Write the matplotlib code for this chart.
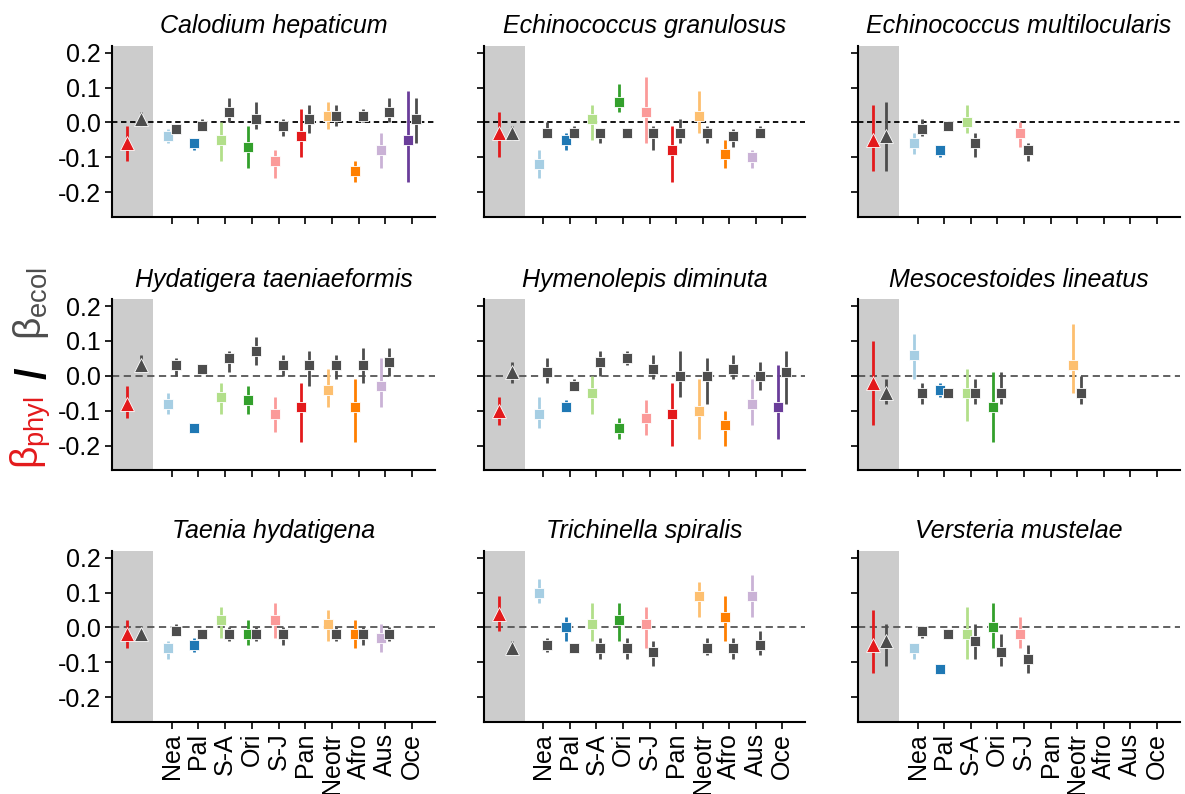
import matplotlib
matplotlib.use("Agg")
import numpy as np
import matplotlib.pyplot as plt

plt.rcParams['font.family'] = ['Liberation Sans', 'DejaVu Sans']
plt.rcParams['axes.unicode_minus'] = False

# regions (x categories) and their colours
regions = ["Nea", "Pal", "S-A", "Ori", "S-J", "Pan", "Neotr", "Afro", "Aus", "Oce"]
region_colors = ['#a6cee3', '#1f78b4', '#b2df8a', '#33a02c', '#fb9a99',
                 '#e31a1c', '#fdbf6f', '#ff7f00', '#cab2d6', '#6a3d9a']
species = ["Calodium hepaticum", "Echinococcus granulosus", "Echinococcus multilocularis",
           "Hydatigera taeniaeformis", "Hymenolepis diminuta", "Mesocestoides lineatus",
           "Taenia hydatigena", "Trichinella spiralis", "Versteria mustelae"]

N = None
# (estimate, lower, upper) per region
calodium_phyl = [(-0.04, -0.06, -0.02), (-0.06, -0.08, -0.05), (-0.05, -0.11, 0.0), (-0.07, -0.13, -0.01),
                 (-0.11, -0.16, -0.08), (-0.04, -0.10, 0.04), (0.02, -0.02, 0.06), (-0.14, -0.17, -0.11),
                 (-0.08, -0.13, -0.03), (-0.05, -0.17, 0.09)]
calodium_ecol = [(-0.02, -0.03, -0.01), (-0.01, -0.02, 0.01), (0.03, 0.0, 0.07), (0.01, -0.02, 0.06),
                 (-0.01, -0.04, 0.01), (0.01, -0.03, 0.05), (0.02, -0.01, 0.05), (0.02, 0.0, 0.04),
                 (0.03, 0.0, 0.07), (0.01, -0.06, 0.07)]

granulosus_phyl = [(-0.12, -0.16, -0.08), (-0.05, -0.08, -0.03), (0.01, -0.05, 0.05), (0.06, 0.03, 0.11),
                   (0.03, -0.06, 0.13), (-0.08, -0.17, -0.01), (0.02, -0.03, 0.09), (-0.09, -0.13, -0.05),
                   (-0.10, -0.13, -0.08), N]
granulosus_ecol = [(-0.03, -0.04, 0.0), (-0.03, -0.04, -0.01), (-0.03, -0.06, -0.02), (-0.03, -0.04, -0.02),
                   (-0.03, -0.08, -0.01), (-0.03, -0.06, 0.01), (-0.03, -0.06, -0.01), (-0.04, -0.07, -0.02),
                   (-0.03, -0.04, -0.01), N]

multilocularis_phyl = [(-0.06, -0.09, -0.03), (-0.08, -0.10, -0.07), (0.0, -0.03, 0.05), N,
                       (-0.03, -0.07, 0.0), N, N, N, N, N]
multilocularis_ecol = [(-0.02, -0.04, 0.01), (-0.01, -0.015, -0.005), (-0.06, -0.10, -0.03), N,
                       (-0.08, -0.11, -0.06), N, N, N, N, N]

hydatigera_phyl = [(-0.08, -0.11, -0.05), (-0.15, -0.155, -0.145), (-0.06, -0.11, -0.02), (-0.07, -0.11, -0.03),
                   (-0.11, -0.16, -0.06), (-0.09, -0.19, -0.02), (-0.04, -0.09, 0.02), (-0.09, -0.19, -0.01),
                   (-0.03, -0.09, 0.05), N]
hydatigera_ecol = [(0.03, 0.0, 0.05), (0.02, 0.015, 0.025), (0.05, 0.01, 0.07), (0.07, 0.03, 0.11),
                   (0.03, 0.0, 0.06), (0.03, -0.03, 0.07), (0.03, -0.01, 0.06), (0.03, -0.02, 0.08),
                   (0.04, 0.0, 0.08), N]

hymenolepis_phyl = [(-0.11, -0.15, -0.06), (-0.09, -0.10, -0.07), (-0.05, -0.11, 0.0), (-0.15, -0.18, -0.12),
                    (-0.12, -0.17, -0.07), (-0.11, -0.20, -0.02), (-0.10, -0.18, -0.01), (-0.14, -0.20, -0.10),
                    (-0.08, -0.14, -0.01), (-0.09, -0.18, 0.03)]
hymenolepis_ecol = [(0.01, -0.02, 0.05), (-0.03, -0.04, -0.01), (0.04, 0.0, 0.07), (0.05, 0.03, 0.07),
                    (0.02, -0.01, 0.06), (0.0, -0.06, 0.07), (0.0, -0.08, 0.05), (0.02, -0.01, 0.06),
                    (0.0, -0.04, 0.04), (0.01, -0.08, 0.07)]

mesocestoides_phyl = [(0.06, -0.01, 0.12), (-0.04, -0.06, -0.02), (-0.05, -0.13, 0.02), (-0.09, -0.19, 0.01),
                      N, N, (0.03, -0.05, 0.15), N, N, N]
mesocestoides_ecol = [(-0.05, -0.08, -0.02), (-0.05, -0.06, -0.04), (-0.05, -0.08, -0.01), (-0.05, -0.08, 0.01),
                      N, N, (-0.05, -0.08, 0.0), N, N, N]

taenia_phyl = [(-0.06, -0.09, -0.04), (-0.05, -0.07, -0.03), (0.02, -0.03, 0.06), (-0.02, -0.05, 0.02),
               (0.02, -0.03, 0.07), N, (0.01, -0.04, 0.05), (-0.02, -0.06, 0.02), (-0.03, -0.07, 0.01), N]
taenia_ecol = [(-0.01, -0.02, 0.01), (-0.02, -0.025, -0.015), (-0.02, -0.04, 0.0), (-0.02, -0.04, 0.0),
               (-0.02, -0.05, 0.0), N, (-0.02, -0.04, 0.0), (-0.02, -0.05, 0.0), (-0.02, -0.04, 0.0), N]

trichinella_phyl = [(0.10, 0.07, 0.14), (0.0, -0.04, 0.03), (0.01, -0.04, 0.07), (0.02, -0.04, 0.07),
                    (0.01, -0.06, 0.06), N, (0.09, 0.03, 0.13), (0.03, -0.04, 0.09), (0.09, 0.03, 0.15), N]
trichinella_ecol = [(-0.05, -0.07, -0.03), (-0.06, -0.07, -0.05), (-0.06, -0.09, -0.03), (-0.06, -0.09, -0.03),
                    (-0.07, -0.11, -0.04), N, (-0.06, -0.08, -0.03), (-0.06, -0.09, -0.03), (-0.05, -0.08, -0.01), N]

versteria_phyl = [(-0.06, -0.09, -0.05), (-0.12, -0.125, -0.115), (-0.02, -0.09, 0.06), (0.0, -0.06, 0.07),
                  (-0.02, -0.06, 0.03), N, N, N, N, N]
versteria_ecol = [(-0.01, -0.03, 0.0), (-0.02, -0.025, -0.015), (-0.04, -0.09, 0.01), (-0.07, -0.11, -0.02),
                  (-0.09, -0.13, -0.05), N, N, N, N, N]

# overall estimates (triangles), one per species
overall_phyl = [(-0.06, -0.11, -0.01), (-0.03, -0.10, 0.03), (-0.05, -0.14, 0.05),
                (-0.08, -0.12, -0.03), (-0.10, -0.14, -0.06), (-0.02, -0.14, 0.10),
                (-0.02, -0.06, 0.02), (0.04, -0.01, 0.09), (-0.05, -0.13, 0.05)]
overall_ecol = [(0.01, -0.01, 0.03), (-0.03, -0.05, -0.01), (-0.04, -0.14, 0.06),
                (0.03, 0.01, 0.06), (0.01, -0.02, 0.04), (-0.05, -0.08, -0.01),
                (-0.02, -0.025, -0.015), (-0.06, -0.08, -0.04), (-0.04, -0.11, 0.01)]

phyl_data = [calodium_phyl, granulosus_phyl, multilocularis_phyl, hydatigera_phyl, hymenolepis_phyl,
             mesocestoides_phyl, taenia_phyl, trichinella_phyl, versteria_phyl]
ecol_data = [calodium_ecol, granulosus_ecol, multilocularis_ecol, hydatigera_ecol, hymenolepis_ecol,
             mesocestoides_ecol, taenia_ecol, trichinella_ecol, versteria_ecol]

ECOL = '#4d4d4d'
RED = '#e31a1c'

fig = plt.figure(figsize=(11.85, 7.94), dpi=100)
lefts = [0.0945, 0.4084, 0.724]
widths = [0.2726, 0.2709, 0.2717]
bottoms = [0.7271, 0.408, 0.0911]
height = 0.2153


def draw_point(ax, x, est, color, marker, ms):
    m, lo, hi = est
    ax.plot([x, x], [lo, hi], color=color, lw=2, solid_capstyle='butt', zorder=3)
    ax.plot(x, m, marker=marker, ms=ms, color=color, mec='white', mew=0.6, zorder=4)


for k, sp in enumerate(species):
    r, c = divmod(k, 3)
    ax = fig.add_axes([lefts[c], bottoms[r], widths[c], height])
    ax.axvspan(-2.24, -0.71, color='#cccccc', lw=0, zorder=0)
    if r == 0:
        ax.axhline(0, color='black', ls=(0, (3, 2)), lw=1.3, zorder=1)
    else:
        ax.axhline(0, color='#555555', ls=(0, (4, 2.5)), lw=1.3, zorder=1)

    draw_point(ax, -1.67, overall_phyl[k], RED, '^', 10.5)
    draw_point(ax, -1.17, overall_ecol[k], ECOL, '^', 10.5)
    for i in range(len(regions)):
        if phyl_data[k][i] is not None:
            draw_point(ax, i - 0.15, phyl_data[k][i], region_colors[i], 's', 7)
        if ecol_data[k][i] is not None:
            draw_point(ax, i + 0.15, ecol_data[k][i], ECOL, 's', 7)

    ax.set_xlim(-2.24, 9.86)
    ax.set_ylim(-0.27, 0.22)
    ax.set_yticks([-0.2, -0.1, 0.0, 0.1, 0.2])
    ax.set_xticks(range(len(regions)))
    if r == 2:
        ax.set_xticklabels(regions, rotation=90, fontsize=18)
    else:
        ax.set_xticklabels([])
    if c == 0:
        ax.set_yticklabels(['-0.2', '-0.1', '0.0', '0.1', '0.2'], fontsize=18)
    else:
        ax.set_yticklabels([])
    ax.tick_params(direction='out', length=5, width=1.2, colors='black', pad=3)
    for s in ['top', 'right']:
        ax.spines[s].set_visible(False)
    for s in ['left', 'bottom']:
        ax.spines[s].set_linewidth(1.5)
    ax.set_title(sp, fontsize=18, style='italic', pad=9)

# composite y label
fig.text(0.026, 0.455, r'$\mathregular{β_{phyl}}$', color=RED, fontsize=28,
         rotation=90, ha='center', va='center')
fig.text(0.029, 0.53, '/', color='black', fontsize=30, fontweight='bold',
         rotation=90, ha='center', va='center')
fig.text(0.026, 0.618, r'$\mathregular{β_{ecol}}$', color=ECOL, fontsize=28,
         rotation=90, ha='center', va='center')

fig.savefig('out.png', dpi=100)
